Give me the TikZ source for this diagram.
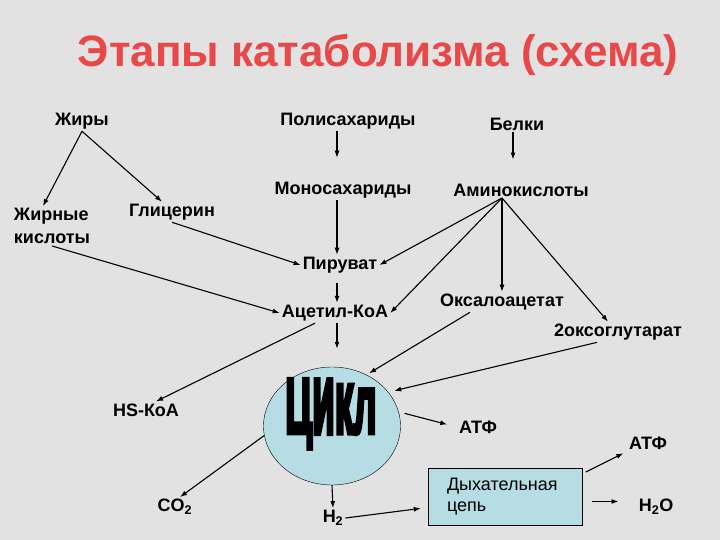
\documentclass[tikz,border=0pt]{standalone}
\usepackage{fontspec}
\usepackage{graphicx}
\setmainfont{Liberation Sans}
\newfontfamily\cyclefont[FakeBold=6]{Liberation Sans Bold}
\usetikzlibrary{arrows.meta,shapes.geometric}
\definecolor{bg}{RGB}{226,226,226}
\definecolor{titlered}{RGB}{232,72,72}
\definecolor{cyclefill}{RGB}{183,221,228}

\begin{document}
\begin{tikzpicture}[x=1pt,y=-1pt]

        \fill[bg] (0,0) rectangle (720,540);
        \useasboundingbox (0,0) rectangle (720,540);

        \node[text=titlered, font=\fontsize{44}{48}\selectfont\bfseries] (title) at (378,55) {Этапы катаболизма (схема)};

        \node[ellipse, draw, thin, fill=cyclefill, minimum width=137, minimum height=118, inner sep=0] (cycle) at (332,426) {};
        \node[anchor=base, font=\fontsize{40}{40}\cyclefont] (cyclelabel) at (331,433)
          {\scalebox{0.92}[1.95]{Ц}\scalebox{0.92}[2.5]{и}\scalebox{0.92}[2.25]{к}\scalebox{0.92}[2.05]{л}};
        \node[draw, thin, fill=cyclefill, minimum height=57, text width=116, inner xsep=19, align=left,
              font=\fontsize{18}{21}\selectfont] (chain) at (505,496.5) {Дыхательная\\цепь};

        \begin{scope}[every node/.style={font=\fontsize{18}{23}\selectfont\bfseries, inner sep=2pt}]
          \node (zhiry)   at (82,121)  {Жиры};
          \node (poly)    at (348,121) {Полисахариды};
          \node (belki)   at (517,124) {Белки};
          \node (mono)    at (343,190) {Моносахариды};
          \node (amino)   at (521,190) {Аминокислоты};
          \node[align=left] (fa) at (52,226) {Жирные\\кислоты};
          \node (gly)     at (172,212) {Глицерин};
          \node (piruvat) at (340,265) {Пируват};
          \node (acetyl)  at (335,313) {Ацетил-КоА};
          \node (oxalo)   at (502,302) {Оксалоацетат};
          \node (oxoglut) at (618,332) {2оксоглутарат};
          \node (hs)      at (146,410) {HS-КоА};
          \node (atfa)    at (478,427) {АТФ};
          \node (atfb)    at (648,443) {АТФ};
          \node (co2)     at (175,507) {CO\textsubscript{2}};
          \node (htwo)    at (333,518) {H\textsubscript{2}};
          \node (water)   at (656,507) {H\textsubscript{2}O};
        \end{scope}

        \coordinate (spine) at (337,0);
        \coordinate (hub)   at (502,198);

        \begin{scope}[every edge/.style={draw, line width=1.1pt, -{Latex[length=7pt,width=5pt]}}]
          \path (zhiry.south) edge ([xshift=-9pt]fa.north);
          \path (zhiry.south) edge ([xshift=-10pt]gly.north);
          \path (gly.south) edge (piruvat.west);
          \path (fa.south) edge (acetyl.west);

          \path (poly.south -| spine) edge[shorten >=22pt] (mono.north -| spine);
          \path (mono.south -| spine) edge (piruvat.north -| spine);
          \path (piruvat.south -| spine) edge[shorten <=8pt] (acetyl.north -| spine);
          \path (acetyl.south -| spine) edge[shorten >=18pt] (cycle.north -| spine);

          \path ([xshift=-4pt]belki.south) edge[shorten >=22pt] ([xshift=-4pt]belki.south |- amino.north);
          \path (hub) edge (piruvat.east);
          \path (hub) edge (acetyl.east);
          \path (hub) edge (oxalo.north);
          \path (hub) edge ([xshift=-10pt]oxoglut.north);

          \path ([xshift=-20pt]acetyl.south) edge ([xshift=10pt]hs.north);
          \path ([xshift=-32pt]oxalo.south) edge[shorten >=3pt] (cycle.56);
          \path ([xshift=-21pt]oxoglut.south) edge[shorten >=6pt] (cycle.31);
          \path (cycle.12) edge[shorten <=6pt, shorten >=10pt] (atfa.west);
          \path (cycle.188) edge ([xshift=5pt]co2.north);
          \path (cycle.south) edge (htwo.north);

          \path (htwo.east) edge[shorten >=7pt] ([yshift=-11pt]chain.west);
          \path ([yshift=-6pt]chain.north east) edge[shorten <=4pt, shorten >=4pt] (atfb.south west);
          \path ([yshift=-5pt]chain.east) edge[shorten <=10pt, shorten >=18pt] ([yshift=-5pt]chain.east -| water.west);
        \end{scope}

      \end{tikzpicture}
\end{document}
